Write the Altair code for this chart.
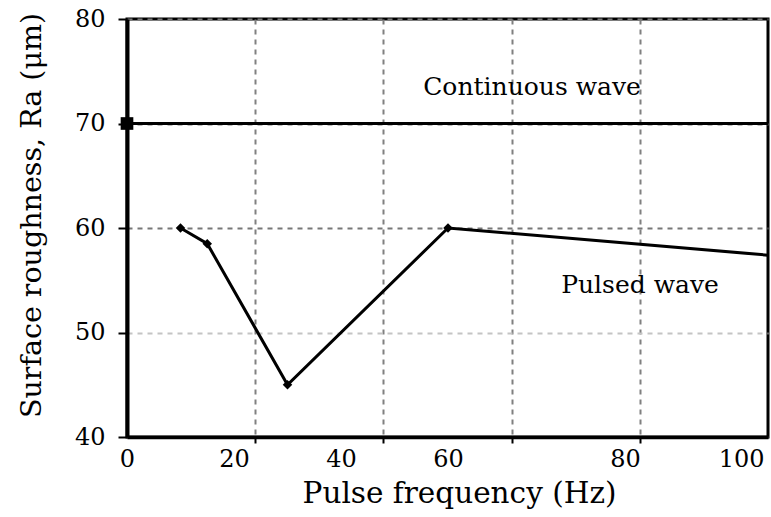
import altair as alt
import pandas as pd

# Continuous-wave reference level (Ra, µm) over the whole frequency span
cw_freq = [0, 100]
cw_ra = [70, 70]

# Pulsed-wave roughness measurements
pw_freq = [10, 15, 30, 60, 100]
pw_ra = [60.0, 58.5, 45.0, 60.0, 57.4]

# Axis ticks
x_ticks = [0, 20, 40, 60, 80, 100]
y_ticks = [40, 50, 60, 70, 80]

# Annotation labels
note_text = ["Continuous wave", "Pulsed wave"]
note_freq = [69.5, 82.1]
note_ra = [73.5, 54.5]

FONT = "DejaVu Serif"
W, H = 641, 418

cw = pd.DataFrame({"freq": cw_freq, "ra": cw_ra})
pw = pd.DataFrame({"freq": pw_freq, "ra": pw_ra})
notes = pd.DataFrame({"freq": note_freq, "ra": note_ra, "text": note_text})

y_scale = alt.Scale(domain=[40, 80], nice=False, zero=False)
y_enc = alt.Y(
    "ra:Q",
    scale=y_scale,
    axis=alt.Axis(
        values=y_ticks,
        title="Surface roughness, Ra (μm)",
        titleFont=FONT,
        titleFontSize=28.5,
        titleFontWeight="normal",
        titleColor="black",
        titlePadding=28,
        titleY=196,
        labelFont=FONT,
        labelFontSize=24,
        labelColor="black",
        labelPadding=13,
        tickSize=9,
        tickWidth=2,
        tickColor="black",
        domainColor="black",
        domainWidth=4,
        grid=True,
        gridDash=[5, 5],
        gridWidth=2,
        gridColor={"condition": {"test": "datum.value == 50", "value": "#c4c4c4"}, "value": "#777777"},
    ),
)

# Equal-division frame grid on a plain linear scale
grid_scale = alt.Scale(domain=[0, 100], nice=False, zero=False)
# Frequency scale used for the measurements and their labels
freq_scale = alt.Scale(domain=[0, 60, 80, 100], range=[0, 321, 498, 641], nice=False, zero=False)

cw_line = alt.Chart(cw).mark_line(color="black", strokeWidth=3.2).encode(
    x=alt.X(
        "freq:Q",
        scale=grid_scale,
        axis=alt.Axis(
            orient="bottom",
            values=[20, 40, 60, 80],
            labels=False,
            title=None,
            ticks=True,
            tickSize=6,
            tickWidth=2,
            tickColor="black",
            domain=True,
            domainColor="black",
            domainWidth=3.5,
            grid=True,
            gridDash=[5, 5],
            gridWidth=2,
            gridColor="#808080",
        ),
    ),
    y=y_enc,
)

cw_marker = alt.Chart(cw).transform_filter("datum.freq == 0").mark_point(
    shape="square", filled=True, color="black", size=160, opacity=1
).encode(x=alt.X("freq:Q", scale=grid_scale, axis=None), y=alt.Y("ra:Q", scale=y_scale))

pw_line = alt.Chart(pw).mark_line(color="black", strokeWidth=3).encode(
    x=alt.X(
        "freq:Q",
        scale=freq_scale,
        axis=alt.Axis(
            orient="bottom",
            values=x_ticks,
            title="Pulse frequency (Hz)",
            titleFont=FONT,
            titleFontSize=29.5,
            titleFontWeight="normal",
            titleColor="black",
            titleX=332,
            titlePadding=8,
            labelFont=FONT,
            labelFontSize=24,
            labelColor="black",
            labelPadding=10,
            labelAlign={"condition": {"test": "datum.value == 100", "value": "right"}, "value": "center"},
            labelOffset={"condition": {"test": "datum.value == 100", "value": -4}, "value": 0},
            labelFlush=False,
            ticks=False,
            domain=False,
            grid=False,
        ),
    ),
    y=alt.Y("ra:Q", scale=y_scale),
)

pw_points = alt.Chart(pw).transform_filter("datum.freq < 100").mark_point(
    shape="diamond", filled=True, color="black", size=90, opacity=1
).encode(x=alt.X("freq:Q", scale=freq_scale, axis=None), y=alt.Y("ra:Q", scale=y_scale))

labels = alt.Chart(notes).mark_text(
    font=FONT, fontSize=25, color="black", align="center", baseline="middle"
).encode(
    x=alt.X("freq:Q", scale=freq_scale, axis=None),
    y=alt.Y("ra:Q", scale=y_scale),
    text="text:N",
)

chart = (
    alt.layer(cw_line, cw_marker, pw_line, pw_points, labels)
    .resolve_scale(x="independent")
    .resolve_axis(x="independent")
    .properties(
        width=W,
        height=H,
        autosize=alt.AutoSizeParams(type="none"),
        padding={"left": 127, "top": 19, "right": 3, "bottom": 80},
        background="white",
    )
    .configure_view(stroke="black", strokeWidth=3)
)

chart.save("out.html", embed_options={"renderer": "svg", "actions": False})
